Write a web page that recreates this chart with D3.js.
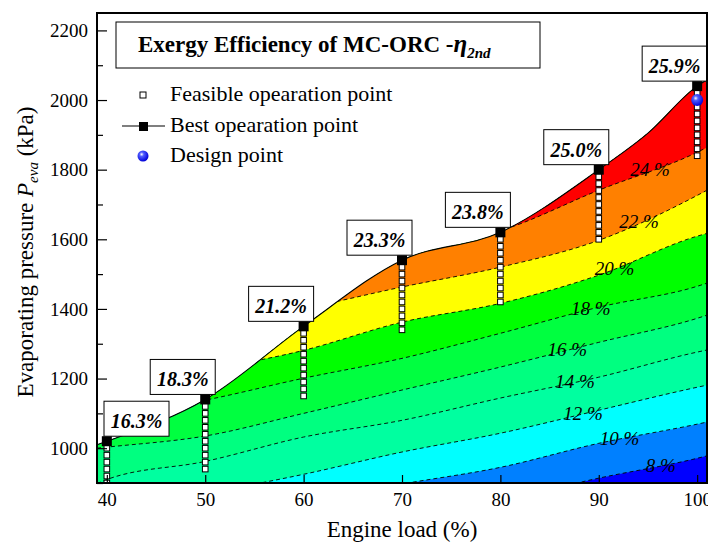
<!DOCTYPE html>
<html><head><meta charset="utf-8">
<script src="https://cdn.jsdelivr.net/npm/d3@7"></script>
<style>
html,body{margin:0;padding:0;background:#fff;}
svg text{font-family:"Liberation Serif","Times New Roman",serif;fill:#000;}
</style></head><body>
<svg id="chart" width="708" height="546"></svg>
<script>
// Engine load grid (%) on which the iso-efficiency lines are tabulated
const loadGrid = [39, 40, 50, 60, 70, 80, 90, 100, 101];
// Exergy-efficiency contour levels (%)
const levels = [8, 10, 12, 14, 16, 18, 20, 22, 24];
// Evaporating pressure (kPa) of each iso-efficiency line along loadGrid
const iso8  = [700, 705, 740, 775, 810, 850, 914, 971, 978];
const iso10 = [720, 725, 790, 845, 897, 945, 1014, 1069, 1075];
const iso12 = [815, 820, 870, 925, 989, 1043, 1109, 1175, 1181];
const iso14 = [898, 910, 962, 1032, 1080, 1144, 1204, 1276, 1282];
const iso16 = [1000, 1003, 1035, 1100, 1167, 1233, 1304, 1373, 1382];
const iso18 = [1085, 1090, 1138, 1201, 1258, 1330, 1405, 1465, 1474];
const iso20 = [1155, 1160, 1222, 1281, 1362, 1416, 1497, 1609, 1617];
const iso22 = [1275, 1280, 1340, 1400, 1463, 1520, 1597, 1726, 1741];
const iso24 = [1450, 1455, 1500, 1540, 1572, 1625, 1741, 1850, 1864];
const isoLines = [iso8, iso10, iso12, iso14, iso16, iso18, iso20, iso22, iso24];
// Engine load at which each level label sits
const labelLoads = [96.3, 92.1, 88.4, 87.6, 86.8, 89.2, 91.6, 94.1, 95.2];
// Fill colour of each band, lowest (< 8 %) to highest (> 24 %)
const bandColors = ["#0000ff", "#0080ff", "#00ffff", "#00ffa0", "#00ff80",
                    "#00ff40", "#00ff00", "#ffff00", "#ff8000", "#ff0000"];

// Upper limit of the feasible operating region (kPa)
const limitLoads    = [39, 40, 50, 60, 70, 80, 90, 95, 100, 101];
const limitPressure = [1010, 1020, 1140, 1350, 1540, 1620, 1800, 1905, 2040, 2058];

// Best operation points and their exergy efficiency (%)
const bestLoads    = [40, 50, 60, 70, 80, 90, 100];
const bestPressure = [1020, 1140, 1350, 1540, 1620, 1800, 2040];
const bestEff      = [16.3, 18.3, 21.2, 23.3, 23.8, 25.0, 25.9];

// Feasible operation points (kPa) at each engine load
const feasible40  = [1000, 980, 960, 940, 920, 900, 880, 860, 840, 820];
const feasible50  = [1120, 1100, 1080, 1060, 1040, 1020, 1000, 980, 960, 940];
const feasible60  = [1330, 1310, 1290, 1270, 1250, 1230, 1210, 1190, 1170, 1150];
const feasible70  = [1520, 1500, 1480, 1460, 1440, 1420, 1400, 1380, 1360, 1340];
const feasible80  = [1600, 1580, 1560, 1540, 1520, 1500, 1480, 1460, 1440, 1420];
const feasible90  = [1780, 1760, 1740, 1720, 1700, 1680, 1660, 1640, 1620, 1600];
const feasible100 = [2020, 2000, 1980, 1960, 1940, 1920, 1900, 1880, 1860, 1840];
const feasibleSets = [feasible40, feasible50, feasible60, feasible70, feasible80, feasible90, feasible100];

// Design point
const designLoad = 100, designPressure = 2000;

// Axis ticks
const xTicks = [40, 50, 60, 70, 80, 90, 100];
const yTicks = [1000, 1200, 1400, 1600, 1800, 2000, 2200];
const yMinorTicks = [900, 1100, 1300, 1500, 1700, 1900, 2100];

// ---------------------------------------------------------------------------
const svg = d3.select("#chart");
const X0 = 97, X1 = 707, Y0 = 13, Y1 = 483;
const x = d3.scaleLinear().domain([39, 101]).range([X0, X1]);
const y = d3.scaleLinear().domain([900, 2250]).range([Y1, Y0]);

const defs = svg.append("defs");
defs.append("clipPath").attr("id", "plotClip")
  .append("rect").attr("x", X0).attr("y", Y0).attr("width", X1 - X0).attr("height", Y1 - Y0);

// feasible region: everything below the limit curve
const limitPts = limitLoads.map((l, i) => [l, limitPressure[i]]);
const regionArea = d3.area().curve(d3.curveMonotoneX)
  .x(d => x(d[0])).y0(Y1 + 5).y1(d => y(d[1]));
defs.append("clipPath").attr("id", "regionClip")
  .append("path").attr("d", regionArea(limitPts));

const grad = defs.append("radialGradient").attr("id", "ball")
  .attr("cx", "38%").attr("cy", "35%").attr("r", "65%");
grad.append("stop").attr("offset", "0%").attr("stop-color", "#ffffff");
grad.append("stop").attr("offset", "30%").attr("stop-color", "#4f5cff");
grad.append("stop").attr("offset", "100%").attr("stop-color", "#0000d8");

const plot = svg.append("g").attr("clip-path", "url(#plotClip)");
const field = plot.append("g").attr("clip-path", "url(#regionClip)");

// colour bands: base colour, then each level fills everything above its line
field.append("rect").attr("x", X0).attr("y", Y0).attr("width", X1 - X0).attr("height", Y1 - Y0 + 5)
  .attr("fill", bandColors[0]);
const bandArea = d3.area().curve(d3.curveMonotoneX)
  .x(d => x(d[0])).y0(d => y(d[1])).y1(Y0 - 5);
isoLines.forEach((line, k) => {
  const pts = loadGrid.map((l, i) => [l, line[i]]);
  field.append("path").attr("d", bandArea(pts)).attr("fill", bandColors[k + 1]);
});

// dashed iso-efficiency lines
const isoLine = d3.line().curve(d3.curveMonotoneX).x(d => x(d[0])).y(d => y(d[1]));
isoLines.forEach(line => {
  const pts = loadGrid.map((l, i) => [l, line[i]]);
  field.append("path").attr("d", isoLine(pts)).attr("fill", "none")
    .attr("stroke", "#000").attr("stroke-width", 0.9).attr("stroke-dasharray", "4,3");
});

// limit curve through the best operation points
plot.append("path").attr("d", isoLine(limitPts)).attr("fill", "none")
  .attr("stroke", "#000").attr("stroke-width", 1.1);

// feasible operation points
feasibleSets.forEach((set, j) => {
  plot.selectAll(null).data(set).enter().append("rect")
    .attr("x", x(bestLoads[j]) - 2.8).attr("y", d => y(d) - 2.8)
    .attr("width", 5.6).attr("height", 5.6)
    .attr("fill", "#fff").attr("stroke", "#000").attr("stroke-width", 1);
});

// best operation points
plot.selectAll(null).data(bestLoads).enter().append("rect")
  .attr("x", d => x(d) - 5).attr("y", (d, i) => y(bestPressure[i]) - 5)
  .attr("width", 10).attr("height", 10).attr("fill", "#000");

// design point
plot.append("circle").attr("cx", x(designLoad)).attr("cy", y(designPressure))
  .attr("r", 6).attr("fill", "url(#ball)");

// level labels
function lineAt(line, load) {
  const i = Math.min(d3.bisectRight(loadGrid, load) - 1, loadGrid.length - 2);
  const t = (load - loadGrid[i]) / (loadGrid[i + 1] - loadGrid[i]);
  return line[i] + t * (line[i + 1] - line[i]);
}
levels.forEach((lv, k) => {
  const p = lineAt(isoLines[k], labelLoads[k]);
  svg.append("text").attr("x", x(labelLoads[k])).attr("y", y(p) + 6)
    .attr("text-anchor", "middle").attr("font-style", "italic").attr("font-size", 19)
    .text(lv + " %");
});

// value boxes above the best points
const boxW = 65, boxH = 35;
bestLoads.forEach((l, i) => {
  const px = x(l), py = y(bestPressure[i]);
  const left = Math.max(px + 10 - boxW, X0 + 7);
  const top = py - 5 - boxH;
  svg.append("rect").attr("x", left).attr("y", top).attr("width", boxW).attr("height", boxH)
    .attr("fill", "#fff").attr("stroke", "#000").attr("stroke-width", 1);
  svg.append("text").attr("x", left + boxW / 2).attr("y", top + 27)
    .attr("text-anchor", "middle").attr("font-weight", "bold").attr("font-style", "italic")
    .attr("font-size", 20).text(bestEff[i].toFixed(1) + "%");
});

// title box
svg.append("rect").attr("x", 116).attr("y", 22).attr("width", 424).attr("height", 46)
  .attr("fill", "#fff").attr("stroke", "#000").attr("stroke-width", 1);
const title = svg.append("text").attr("x", 138).attr("y", 52)
  .attr("font-weight", "bold").attr("font-size", 23);
title.append("tspan").text("Exergy Efficiency of MC-ORC -");
title.append("tspan").attr("font-style", "italic").attr("font-size", 25).text("η");
title.append("tspan").attr("font-style", "italic").attr("font-size", 15).attr("dy", 6).text("2nd");

// legend
const lg = svg.append("g");
lg.append("rect").attr("x", 140).attr("y", 92).attr("width", 6).attr("height", 6)
  .attr("fill", "#fff").attr("stroke", "#000").attr("stroke-width", 1);
lg.append("line").attr("x1", 122).attr("x2", 165).attr("y1", 126).attr("y2", 126)
  .attr("stroke", "#000").attr("stroke-width", 1.1);
lg.append("rect").attr("x", 139).attr("y", 122).attr("width", 9).attr("height", 9).attr("fill", "#000");
lg.append("circle").attr("cx", 143).attr("cy", 156).attr("r", 5.5).attr("fill", "url(#ball)");
[["Feasible opearation point", 101], ["Best opearation point", 132], ["Design point", 162]]
  .forEach(([t, by]) => lg.append("text").attr("x", 170).attr("y", by).attr("font-size", 22).text(t));

// axes
const xAxis = svg.append("g").attr("transform", `translate(0,${Y1})`)
  .call(d3.axisBottom(x).tickValues(xTicks).tickSize(-8).tickPadding(10).tickFormat(d3.format("d")));
const yAxis = svg.append("g").attr("transform", `translate(${X0},0)`)
  .call(d3.axisLeft(y).tickValues(yTicks).tickSize(-10).tickPadding(9).tickFormat(d3.format("d")));
const yMinor = svg.append("g").attr("transform", `translate(${X0},0)`)
  .call(d3.axisLeft(y).tickValues(yMinorTicks).tickSize(-6).tickFormat(""));
[xAxis, yAxis, yMinor].forEach(g => {
  g.select(".domain").remove();
  g.selectAll(".tick line").attr("stroke", "#000").attr("stroke-width", 1.2);
  g.selectAll("text").attr("font-size", 19).attr("font-family", "Liberation Serif, serif").attr("fill", "#000");
});

// frame
svg.append("rect").attr("x", X0).attr("y", Y0).attr("width", X1 - X0).attr("height", Y1 - Y0)
  .attr("fill", "none").attr("stroke", "#000").attr("stroke-width", 2);

// axis titles
svg.append("text").attr("x", 402).attr("y", 537).attr("text-anchor", "middle")
  .attr("font-size", 23).text("Engine load (%)");
const yt = svg.append("text").attr("transform", "translate(33,252) rotate(-90)")
  .attr("text-anchor", "middle").attr("font-size", 23);
yt.append("tspan").text("Evaporating pressure ");
yt.append("tspan").attr("font-style", "italic").text("P");
yt.append("tspan").attr("font-style", "italic").attr("font-size", 15).attr("dy", 5).text("eva");
yt.append("tspan").attr("dy", -5).text(" (kPa)");
</script>
</body></html>
